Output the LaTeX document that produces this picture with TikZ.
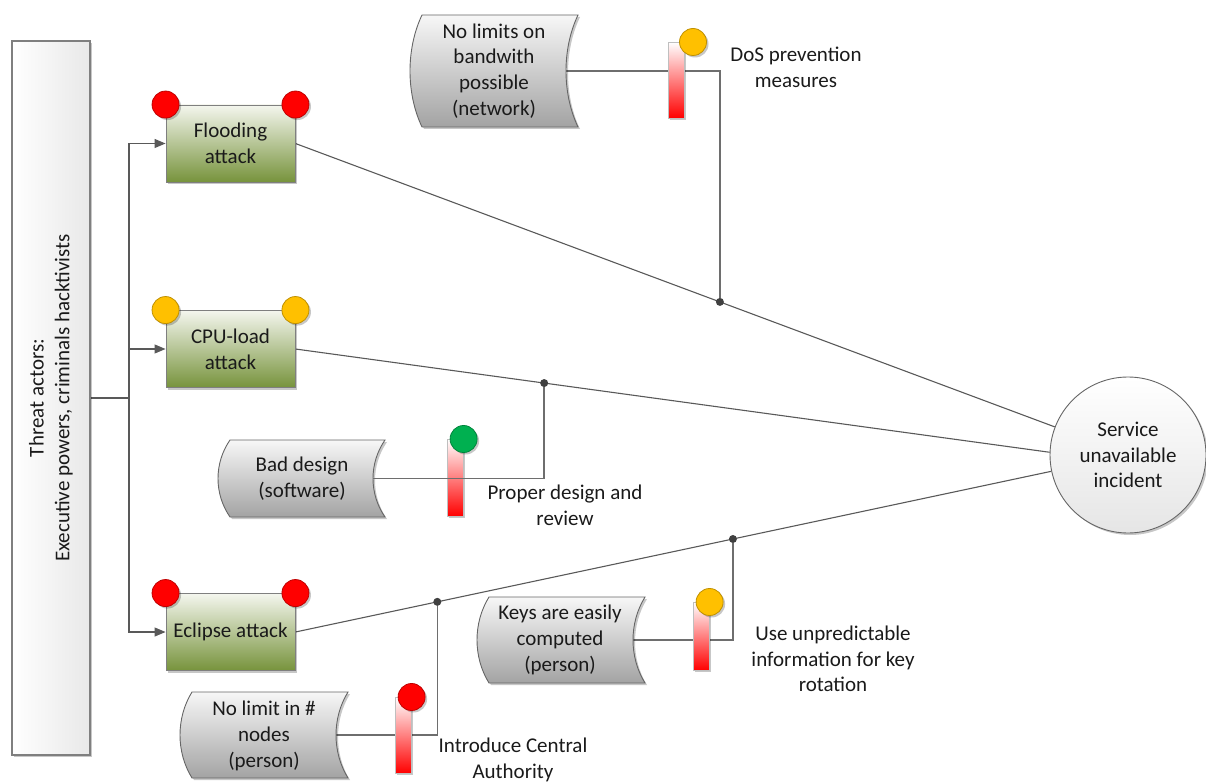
\documentclass[tikz,border=0pt]{standalone}
\usepackage{fontspec}
\setmainfont{Carlito}
\usetikzlibrary{arrows.meta,shadows,calc}
\pgfdeclarelayer{background}
\pgfsetlayers{background,main}

\definecolor{inkc}{HTML}{1A1A1A}
\definecolor{edgec}{HTML}{7F7F7F}
\definecolor{wirec}{HTML}{595959}
\definecolor{ctrlc}{HTML}{6E6E6E}
\definecolor{attgreen}{HTML}{77933C}
\definecolor{attlight}{HTML}{F4F6EE}
\definecolor{vulntop}{HTML}{F7F7F7}
\definecolor{vulnbot}{HTML}{A3A3A3}
\definecolor{barred}{HTML}{FF0000}
\definecolor{lampred}{HTML}{FF0000}
\definecolor{lampamber}{HTML}{FFC000}
\definecolor{lampgreen}{HTML}{00B050}
\definecolor{dotc}{HTML}{404040}

% banner-like vulnerability shape between corners (#1,#2) and (#3,#4);
% its exit point on the concave right side is named #5
\newcommand\vulnshape[5]{%
  \path[vulnbody] ({#1+12},#2) -- (#3,#2)
    .. controls ({#3-16},{#2+0.3*(#4-#2)}) and ({#3-16},{#2+0.7*(#4-#2)}) .. (#3,#4)
    -- ({#1+12},#4)
    .. controls ({#1-4},{#2+0.7*(#4-#2)}) and ({#1-4},{#2+0.3*(#4-#2)}) .. ({#1+12},#2)
    -- cycle;
  \coordinate (#5) at ({#3-12},{0.5*(#2+#4)});}

\begin{document}
\begin{tikzpicture}[x=1pt,y=-1pt,
  font=\fontsize{21}{25.7}\selectfont,
  txt/.style={text=inkc, align=center, inner sep=0pt},
  shadowed/.style={drop shadow={shadow xshift=2pt,shadow yshift=-2pt,opacity=0.22,fill=black}},
  actorbox/.style={shadowed, draw=edgec, line width=1.8pt, left color=white, right color=black!9,
    minimum width=78pt, minimum height=714pt, inner sep=0pt},
  attack/.style={shadowed, draw=edgec, line width=0.9pt, top color=attlight, bottom color=attgreen,
    minimum width=129pt, minimum height=77pt, txt},
  outcome/.style={shadowed, circle, draw=black!60, line width=0.9pt, top color=white, bottom color=black!10,
    minimum size=156pt, txt},
  vulnbody/.style={shadowed, draw=black!60, line width=0.9pt, top color=vulntop, bottom color=vulnbot},
  lamp/.style={shadowed, circle, draw=#1!75!black, fill=#1, line width=0.8pt, minimum size=27pt, inner sep=0pt},
  barrier/.style={shadowed, rectangle, draw=black!25, line width=0.6pt, top color=white, bottom color=barred,
    minimum width=16pt, minimum height=#1, inner sep=0pt, anchor=north west},
  junction/.style={circle, fill=dotc, minimum size=8pt, inner sep=0pt},
  wire/.style={draw=wirec, line width=1.1pt},
  feed/.style={wire, -{Triangle[length=11pt,width=9pt]}},
  ctrl/.style={draw=ctrlc, line width=1.4pt},
]
\useasboundingbox (0,0) rectangle (1206,783);

% threat actors
\node[actorbox] (actors) at (51,398) {};
\node[txt, rotate=90] (actorstext) at (actors.center) {Threat actors:\\Executive powers, criminals hacktivists};

% attacks with their status lamps
\node[attack] (flood) at (230.5,143.5) {Flooding\\attack};
\node[attack] (cpu) at (230.5,349) {CPU-load\\attack};
\node[attack] (ecl) at (230.5,632) {Eclipse attack};
\node[lamp=lampred] (flood-l) at (flood.north west) {};
\node[lamp=lampred] (flood-r) at (flood.north east) {};
\node[lamp=lampamber] (cpu-l) at (cpu.north west) {};
\node[lamp=lampamber] (cpu-r) at (cpu.north east) {};
\node[lamp=lampred] (ecl-l) at (ecl.north west) {};
\node[lamp=lampred] (ecl-r) at (ecl.north east) {};

% incident
\node[outcome] (svc) at (1128,455) {Service\\unavailable\\incident};

% junctions on the attack paths
\node[junction] (j1) at ($(flood.east)!0.559!(svc.159)$) {};
\node[junction] (j2) at ($(cpu.east)!0.3298!(svc.178)$) {};
\node[junction] (j3) at ($(ecl.east)!0.1877!(svc.192)$) {};
\node[junction] (j4) at ($(ecl.east)!0.5788!(svc.192)$) {};

% vulnerabilities
\vulnshape{410}{15}{578}{127}{vnet-out}
\node[txt] (vnet) at (494,71) {No limits on\\bandwith\\possible\\(network)};
\vulnshape{218}{440}{385}{517}{vdes-out}
\node[txt] (vdes) at (302,479) {Bad design\\(software)};
\vulnshape{477}{597}{645}{683}{vkey-out}
\node[txt] (vkey) at (560,640) {Keys are easily\\computed\\(person)};
\vulnshape{180}{692}{348}{778}{vnod-out}
\node[txt] (vnod) at (264,736) {No limit in \#\\nodes\\(person)};

% barriers with their lamps and labels
\node[barrier=76pt] (bdos) at (668,42) {};
\node[lamp=lampamber] (bdos-l) at (693,42) {};
\node[txt] (ldos) at (796,67) {DoS prevention\\measures};

\node[barrier=77pt] (bdes) at (447,439) {};
\node[lamp=lampgreen] (bdes-l) at (bdes.north east) {};
\node[txt] (ldes) at (565,505) {Proper design and\\review};

\node[barrier=68pt] (bkey) at (693,602) {};
\node[lamp=lampamber] (bkey-l) at (bkey.north east) {};
\node[txt] (lkey) at (833,659) {Use unpredictable\\information for key\\rotation};

\node[barrier=76pt] (bnod) at (395,697) {};
\node[lamp=lampred] (bnod-l) at (bnod.north east) {};
\node[txt] (lnod) at (513,760) {Introduce Central\\Authority};

% connectors
\coordinate (trunk) at (129,398);
\begin{pgfonlayer}{background}
  \draw[wire] (actors.east) -- (trunk);
  \draw[feed] (trunk) |- (flood.west);
  \draw[feed] (trunk) |- (cpu.west);
  \draw[feed] (trunk) |- (ecl.west);
  \draw[wire] (flood.east) -- (svc.159);
  \draw[wire] (cpu.east) -- (svc.178);
  \draw[wire] (ecl.east) -- (svc.192);
  \draw[ctrl] (vnet-out) -| (j1);
  \draw[ctrl] (vkey-out) -| (j4);
  \draw[ctrl] (vnod-out) -| (j3);
\end{pgfonlayer}
\draw[ctrl] (vdes-out) -| (j2);
\end{tikzpicture}
\end{document}
